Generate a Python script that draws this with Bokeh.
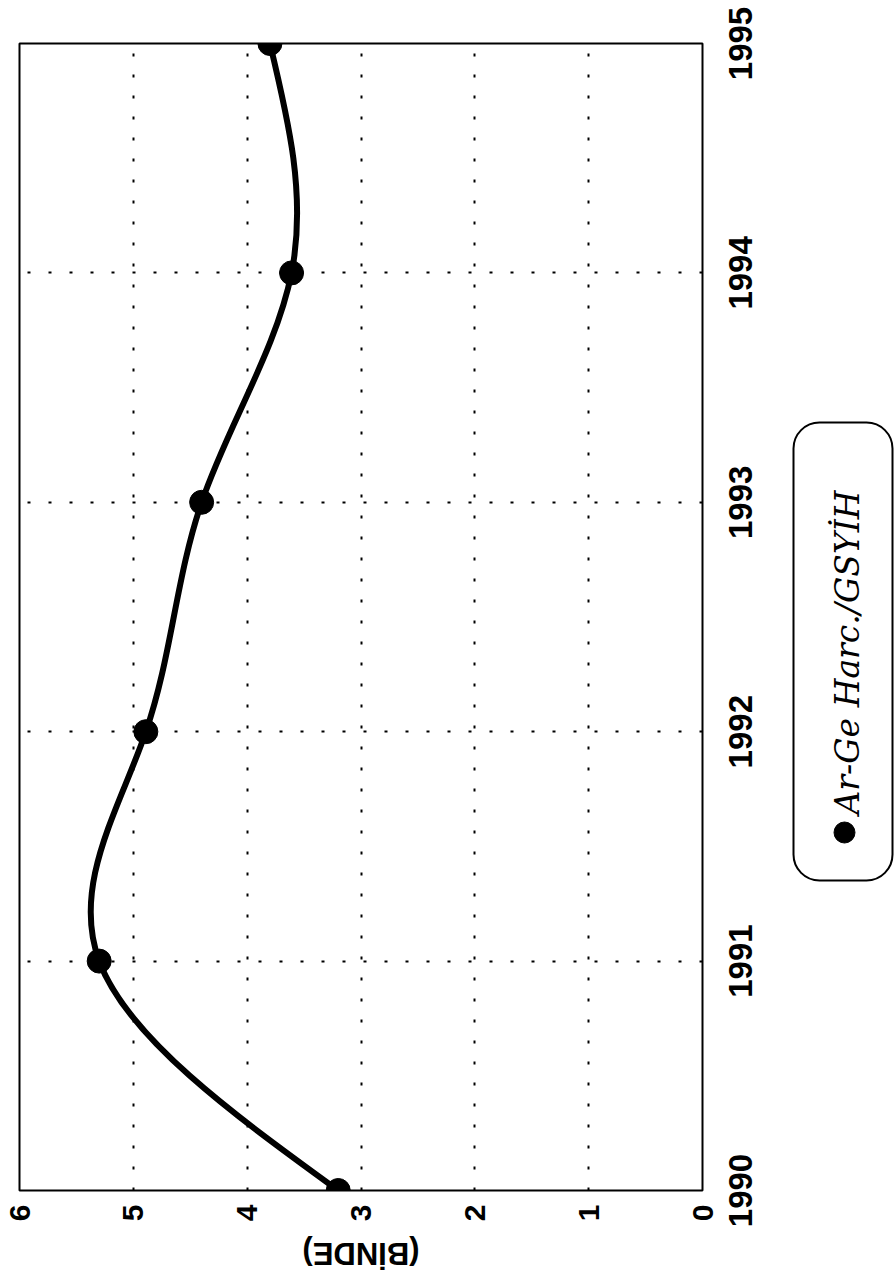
import numpy as np
from bokeh.plotting import figure
from bokeh.models import Range1d, FixedTicker, BoxAnnotation
from bokeh.layouts import row, column
from bokeh.embed import file_html
from bokeh.resources import INLINE
from bokeh.core.properties import value

# ---- data ----
years = [1990, 1991, 1992, 1993, 1994, 1995]
binde = [3.20, 5.30, 4.89, 4.40, 3.61, 3.80]
value_ticks = [0, 1, 2, 3, 4, 5, 6]
year_labels = [str(y) for y in years]
series_name = "Ar-Ge Harc./GSYİH"
unit_label = "(BİNDE)"

PAD_L, PAD_T, PAD_R, PAD_B = 19, 43, 19, 45
FRAME_W, FRAME_H = 683, 1147
MAIN_W = PAD_L + FRAME_W + PAD_R
MAIN_H = PAD_T + FRAME_H + PAD_B
BOT_H = 40
H = MAIN_H + BOT_H

p = figure(width=MAIN_W, height=MAIN_H,
           x_range=Range1d(6, 0), y_range=Range1d(years[0], years[-1]),
           y_axis_location="right",
           output_backend="svg", toolbar_location=None,
           min_border_left=PAD_L, min_border_right=PAD_R,
           min_border_top=PAD_T, min_border_bottom=PAD_B)
p.background_fill_color = "white"
p.border_fill_color = "white"
p.outline_line_color = "black"
p.outline_line_width = 2

xa = p.xaxis[0]
xa.ticker = FixedTicker(ticks=value_ticks)
xa.major_label_orientation = np.pi / 2
xa.major_label_text_font = "Liberation Sans"
xa.major_label_text_font_style = "bold"
xa.major_label_text_font_size = "30px"
xa.major_label_text_color = "black"
xa.major_label_standoff = 14
xa.major_tick_out = 0
xa.major_tick_in = 0
xa.minor_tick_out = 0
xa.minor_tick_in = 0
xa.axis_line_color = None

ya = p.yaxis[0]
ya.ticker = FixedTicker(ticks=years)
ya.visible = False

for g in (p.xgrid[0], p.ygrid[0]):
    g.grid_line_color = "black"
    g.grid_line_dash = "3 18"
    g.grid_line_width = 2

# smooth curve through the points: natural cubic spline drawn as bezier segments
t = np.array(years, dtype=float)
v = np.array(binde, dtype=float)
n = len(t)
h = np.diff(t)
A = np.zeros((n, n))
b = np.zeros(n)
A[0, 0] = 1.0
A[-1, -1] = 1.0
for i in range(1, n - 1):
    A[i, i - 1] = h[i - 1]
    A[i, i] = 2 * (h[i - 1] + h[i])
    A[i, i + 1] = h[i]
    b[i] = 6 * ((v[i + 1] - v[i]) / h[i] - (v[i] - v[i - 1]) / h[i - 1])
M = np.linalg.solve(A, b)
sec = (v[1:] - v[:-1]) / h
d_left = sec - h * (2 * M[:-1] + M[1:]) / 6
d_right = sec + h * (M[:-1] + 2 * M[1:]) / 6
p.bezier(x0=v[:-1], y0=t[:-1], x1=v[1:], y1=t[1:],
         cx0=v[:-1] + d_left * h / 3, cy0=t[:-1] + h / 3,
         cx1=v[1:] - d_right * h / 3, cy1=t[1:] - h / 3,
         line_color="black", line_width=6)
p.scatter(x=binde, y=years, size=24, marker="circle",
          fill_color="black", line_color="black")

# unit label under the value axis (upside down, as in the rotated page)
B = figure(width=MAIN_W, height=BOT_H, x_range=p.x_range, y_range=Range1d(0, 1),
           x_axis_location=None, y_axis_location=None,
           output_backend="svg", toolbar_location=None,
           min_border_left=PAD_L, min_border_right=PAD_R,
           min_border_top=0, min_border_bottom=0)
B.outline_line_color = None
B.grid.visible = False
B.text(x=[3], y=[0.55], text=[unit_label], angle=np.pi,
       text_align="center", text_baseline="middle",
       text_font=value("Liberation Sans"), text_font_style="bold",
       text_font_size="31px", text_color="black")

# right panel: year tick labels (on the same year scale) + legend box
per_px = (years[-1] - years[0]) / FRAME_H
LW = 173
L = figure(width=LW, height=H, x_range=Range1d(0, LW),
           y_range=Range1d(years[0] - (H - PAD_T - FRAME_H) * per_px,
                           years[-1] + PAD_T * per_px),
           x_axis_location=None, y_axis_location=None,
           output_backend="svg", toolbar_location=None, min_border=0)
L.extra_y_ranges = {"px": Range1d(0, H)}
L.outline_line_color = None
L.grid.visible = False
L.background_fill_color = "white"
L.border_fill_color = "white"

L.text(x=[19] * len(years), y=years, text=year_labels, angle=np.pi / 2,
       text_align="center", text_baseline="middle",
       text_font=value("Liberation Sans"), text_font_style="bold",
       text_font_size="33px", text_color="black")

L.add_layout(BoxAnnotation(left=72, right=171, top=H - 422, bottom=H - 880,
                           y_range_name="px",
                           border_radius=26, fill_color=None,
                           line_color="black", line_alpha=1.0, line_width=2,
                           level="underlay"))
L.scatter(x=[123], y=[H - 832], size=21, marker="circle", y_range_name="px",
          fill_color="black", line_color="black")
L.text(x=[126], y=[H - 814], text=[series_name], angle=np.pi / 2,
       y_range_name="px",
       text_align="left", text_baseline="middle",
       text_font=value("DejaVu Serif"), text_font_style="italic",
       text_font_size="33px", text_color="black")

layout = row(column(p, B, spacing=0), L, spacing=0)
open("out.html", "w").write(file_html(layout, INLINE))
